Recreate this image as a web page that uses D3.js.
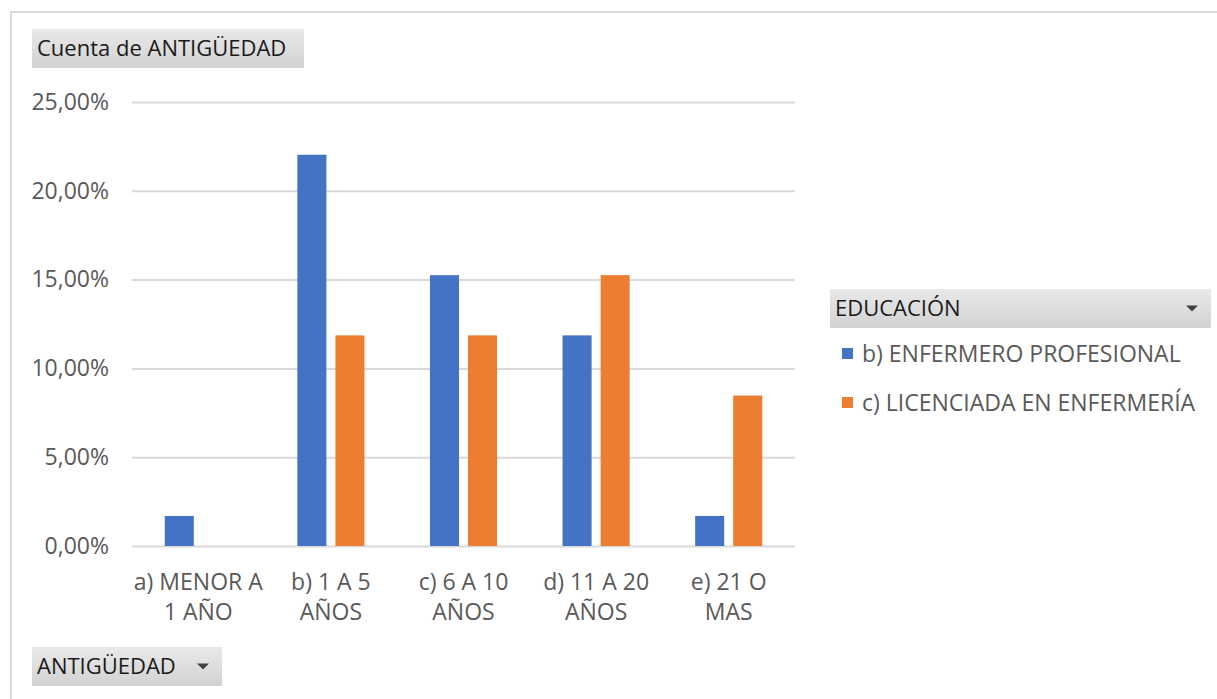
<!DOCTYPE html>
<html>
<head>
<meta charset="utf-8">
<script src="https://cdn.jsdelivr.net/npm/d3@7"></script>
<style>
  html, body { margin: 0; padding: 0; background: #fff; }
  svg { display: block; }
  text { font-family: "Open Sans", "Noto Sans", sans-serif; }
</style>
</head>
<body>
<svg id="chart" width="1217" height="699"></svg>
<script>
// Pivot chart: count of seniority (ANTIGÜEDAD) by education level, as share of total
const categories = [
  ["a) MENOR A", "1 AÑO"],
  ["b) 1 A 5", "AÑOS"],
  ["c) 6 A 10", "AÑOS"],
  ["d) 11 A 20", "AÑOS"],
  ["e) 21 O", "MAS"]
];
const seriesNames = ["b) ENFERMERO PROFESIONAL", "c) LICENCIADA EN ENFERMERÍA"];
const enfermeroProfesional = [0.0169, 0.2203, 0.1525, 0.1186, 0.0169];
const licenciadaEnfermeria = [0, 0.1186, 0.1186, 0.1525, 0.0847];
const yTicks = [0, 0.05, 0.10, 0.15, 0.20, 0.25];
const seriesColors = ["#4472C4", "#ED7D31"];

const svg = d3.select("#chart");
const W = 1217, H = 699;
const labelSize = "23px";

// Gradient used by the pivot field buttons
const defs = svg.append("defs");
const grad = defs.append("linearGradient")
  .attr("id", "btnGrad").attr("x1", 0).attr("y1", 0).attr("x2", 0).attr("y2", 1);
grad.append("stop").attr("offset", "0%").attr("stop-color", "#e9e9e9");
grad.append("stop").attr("offset", "100%").attr("stop-color", "#d2d2d2");

// Chart area frame
svg.append("path")
  .attr("d", `M11,${H + 5} L11,12 L${W + 5},12`)
  .attr("fill", "none").attr("stroke", "#d9d9d9").attr("stroke-width", 2);

const plot = { left: 132, right: 795, top: 102, bottom: 546 };

const x = d3.scaleBand()
  .domain(d3.range(categories.length))
  .range([plot.left, plot.right])
  .padding(0);

const y = d3.scaleLinear()
  .domain([0, 0.25])
  .range([plot.bottom, plot.top]);

const fmtPct = v => d3.format(".2f")(v * 100).replace(".", ",") + "%";

// Gridlines and y labels
const yAxis = d3.axisLeft(y).tickValues(yTicks).tickSize(-(plot.right - plot.left))
  .tickFormat(fmtPct).tickPadding(23);
const gy = svg.append("g").attr("transform", `translate(${plot.left},0)`).call(yAxis);
gy.select(".domain").remove();
gy.selectAll(".tick line").attr("stroke", "#d9d9d9").attr("stroke-width", 2);
gy.selectAll(".tick text")
  .attr("fill", "#595959").attr("font-size", labelSize)
  .attr("font-family", "'Open Sans', sans-serif");

// Bars
const bw = x.bandwidth();
const barW = bw * 0.219;
const barGap = bw * 0.068;
const seriesData = [enfermeroProfesional, licenciadaEnfermeria];
seriesData.forEach((vals, s) => {
  svg.append("g").selectAll("rect")
    .data(vals)
    .join("rect")
    .attr("x", (d, i) => x(i) + bw / 2 - barW - barGap / 2 + s * (barW + barGap))
    .attr("width", barW)
    .attr("y", d => y(d))
    .attr("height", d => y(0) - y(d))
    .attr("fill", seriesColors[s]);
});

// Category labels (two lines each)
const gx = svg.append("g");
categories.forEach((lines, i) => {
  const t = gx.append("text")
    .attr("x", x(i) + bw / 2)
    .attr("y", 590)
    .attr("text-anchor", "middle")
    .attr("fill", "#595959")
    .attr("font-size", labelSize);
  lines.forEach((ln, k) => {
    t.append("tspan").attr("x", x(i) + bw / 2).attr("dy", k === 0 ? 0 : 30).text(ln);
  });
});

// Field button helper
function fieldButton(bx, by, bwid, bh, label, dropdown) {
  const g = svg.append("g");
  g.append("rect").attr("x", bx).attr("y", by).attr("width", bwid).attr("height", bh)
    .attr("fill", "url(#btnGrad)");
  g.append("text").attr("x", bx + 5).attr("y", by + bh / 2 + 7.5)
    .attr("fill", "#1a1a1a").attr("font-size", "22px").text(label);
  if (dropdown) {
    const cx = bx + bwid - 19, cy = by + bh / 2;
    g.append("path")
      .attr("d", `M${cx - 6},${cy - 3} L${cx + 6},${cy - 3} L${cx},${cy + 3} Z`)
      .attr("fill", "#404040");
  }
}

fieldButton(32, 29, 272, 39, "Cuenta de ANTIGÜEDAD", false);
fieldButton(32, 647, 190, 39, "ANTIGÜEDAD", true);
fieldButton(830, 289, 381, 39, "EDUCACIÓN", true);

// Legend entries
const legend = svg.append("g");
seriesNames.forEach((name, i) => {
  const ly = 354 + i * 49;
  legend.append("rect").attr("x", 842).attr("y", ly - 6).attr("width", 11).attr("height", 11)
    .attr("fill", seriesColors[i]);
  legend.append("text").attr("x", 862).attr("y", ly + 8)
    .attr("fill", "#595959").attr("font-size", labelSize).text(name);
});
</script>
</body>
</html>
